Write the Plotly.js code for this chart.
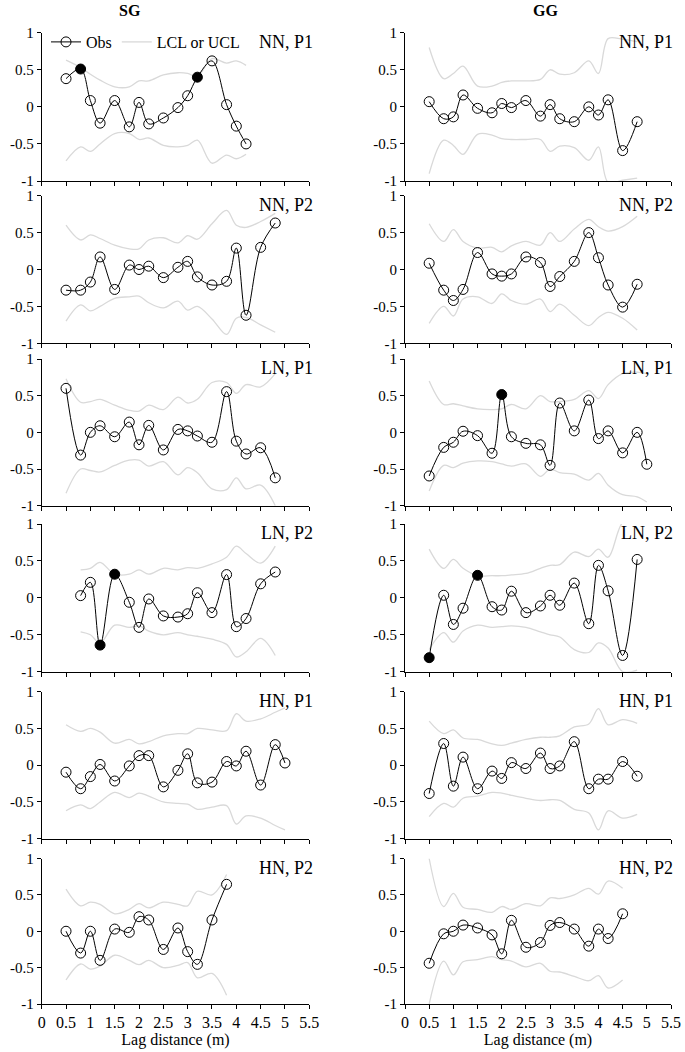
<!DOCTYPE html>
<html>
<head>
<meta charset="utf-8">
<script src="https://cdn.plot.ly/plotly-3.0.1.min.js"></script>
<style>
  html, body { margin: 0; padding: 0; background: #fff; }
  #graph-canvas { width: 685px; height: 1052px; }
</style>
</head>
<body>
<div id="graph-canvas"></div>
<script>
// lag distances (m)
var lag16 = [0.5, 0.8, 1, 1.2, 1.5, 1.8, 2, 2.2, 2.5, 2.8, 3, 3.2, 3.5, 3.8, 4, 4.2];
var lag18 = [0.5, 0.8, 1, 1.2, 1.5, 1.8, 2, 2.2, 2.5, 2.8, 3, 3.2, 3.5, 3.8, 4, 4.2, 4.5, 4.8];
var lag19 = [0.5, 0.8, 1, 1.2, 1.5, 1.8, 2, 2.2, 2.5, 2.8, 3, 3.2, 3.5, 3.8, 4, 4.2, 4.5, 4.8, 5];
var lag17b = [0.8, 1, 1.2, 1.5, 1.8, 2, 2.2, 2.5, 2.8, 3, 3.2, 3.5, 3.8, 4, 4.2, 4.5, 4.8];
var lag14 = [0.5, 0.8, 1, 1.2, 1.5, 1.8, 2, 2.2, 2.5, 2.8, 3, 3.2, 3.5, 3.8];
var lag17 = [0.5, 0.8, 1, 1.2, 1.5, 1.8, 2, 2.2, 2.5, 2.8, 3, 3.2, 3.5, 3.8, 4, 4.2, 4.5];

// SG, NN, P1
var sgNnP1Obs = [0.38, 0.51, 0.085, -0.22, 0.085, -0.27, 0.06, -0.23, -0.15, -0.01, 0.15, 0.40, 0.62, 0.03, -0.26, -0.50];
var sgNnP1Ucl = [0.63, 0.53, 0.44, 0.36, 0.27, 0.27, 0.35, 0.35, 0.43, 0.46, 0.45, 0.41, 0.65, 0.59, 0.62, 0.56];
var sgNnP1Lcl = [-0.73, -0.54, -0.60, -0.50, -0.36, -0.36, -0.44, -0.42, -0.52, -0.54, -0.52, -0.45, -0.76, -0.65, -0.70, -0.64];
var sgNnP1Sig = [0.8, 3.2];

// GG, NN, P1
var ggNnP1Obs = [0.07, -0.16, -0.135, 0.16, -0.02, -0.08, 0.045, -0.01, 0.085, -0.125, 0.03, -0.16, -0.20, 0.0, -0.11, 0.095, -0.59, -0.20];
var ggNnP1Ucl = [0.80, 0.38, 0.45, 0.55, 0.28, 0.28, 0.33, 0.35, 0.35, 0.37, 0.50, 0.44, 0.46, 0.62, 0.45, 0.92, 0.91, 0.88];
var ggNnP1Lcl = [-0.90, -0.45, -0.52, -0.64, -0.37, -0.38, -0.43, -0.44, -0.44, -0.44, -0.60, -0.53, -0.55, -0.72, -0.54, -1.02, -0.99, -0.96];
var ggNnP1Sig = [];

// SG, NN, P2
var sgNnP2Obs = [-0.28, -0.28, -0.17, 0.17, -0.27, 0.06, 0.0, 0.045, -0.11, 0.03, 0.11, -0.10, -0.21, -0.16, 0.29, -0.62, 0.30, 0.63];
var sgNnP2Ucl = [0.60, 0.40, 0.47, 0.42, 0.33, 0.28, 0.28, 0.40, 0.43, 0.36, 0.46, 0.41, 0.62, 0.80, 0.60, 0.57, 0.65, 0.76];
var sgNnP2Lcl = [-0.70, -0.48, -0.56, -0.50, -0.39, -0.37, -0.36, -0.45, -0.52, -0.43, -0.55, -0.50, -0.67, -0.88, -0.66, -0.65, -0.75, -0.85];
var sgNnP2Sig = [];

// GG, NN, P2
var ggNnP2Obs = [0.085, -0.28, -0.42, -0.27, 0.23, -0.06, -0.09, -0.06, 0.17, 0.095, -0.23, -0.095, 0.11, 0.50, 0.16, -0.21, -0.51, -0.20];
var ggNnP2Ucl = [0.62, 0.38, 0.54, 0.38, 0.29, 0.30, 0.24, 0.32, 0.38, 0.33, 0.50, 0.38, 0.55, 0.68, 0.58, 0.52, 0.58, 0.72];
var ggNnP2Lcl = [-0.73, -0.50, -0.63, -0.40, -0.37, -0.46, -0.33, -0.42, -0.47, -0.40, -0.57, -0.47, -0.62, -0.76, -0.65, -0.58, -0.66, -0.82];
var ggNnP2Sig = [];

// SG, LN, P1
var sgLnP1Obs = [0.60, -0.31, 0.0, 0.09, -0.06, 0.14, -0.17, 0.095, -0.24, 0.04, 0.02, -0.05, -0.135, 0.555, -0.12, -0.295, -0.21, -0.62];
var sgLnP1Ucl = [0.73, 0.41, 0.42, 0.45, 0.37, 0.30, 0.29, 0.37, 0.31, 0.48, 0.40, 0.45, 0.68, 0.68, 0.53, 0.65, 0.62, 0.80];
var sgLnP1Lcl = [-0.83, -0.50, -0.52, -0.54, -0.45, -0.38, -0.38, -0.46, -0.40, -0.58, -0.48, -0.55, -0.77, -0.78, -0.62, -0.77, -0.72, -1.0];
var sgLnP1Sig = [];

// GG, LN, P1
var ggLnP1Obs = [-0.595, -0.205, -0.135, 0.015, -0.045, -0.285, 0.515, -0.06, -0.15, -0.17, -0.45, 0.40, 0.02, 0.44, -0.085, 0.02, -0.28, 0.0, -0.435];
var ggLnP1Ucl = [0.70, 0.38, 0.39, 0.36, 0.32, 0.31, 0.32, 0.38, 0.32, 0.50, 0.42, 0.42, 0.45, 0.57, 0.46, 0.65, 0.80, 0.82, 0.80];
var ggLnP1Lcl = [-0.80, -0.45, -0.48, -0.42, -0.39, -0.40, -0.43, -0.46, -0.43, -0.60, -0.50, -0.55, -0.57, -0.65, -0.56, -0.72, -0.85, -0.88, -0.95];
var ggLnP1Sig = [2];

// SG, LN, P2
var sgLnP2Obs = [0.03, 0.21, -0.64, 0.32, -0.06, -0.40, -0.015, -0.245, -0.26, -0.215, 0.07, -0.20, 0.315, -0.39, -0.28, 0.19, 0.35];
var sgLnP2Ucl = [0.38, 0.40, 0.48, 0.32, 0.32, 0.38, 0.32, 0.40, 0.38, 0.41, 0.40, 0.46, 0.55, 0.70, 0.60, 0.47, 0.70];
var sgLnP2Lcl = [-0.46, -0.50, -0.61, -0.37, -0.40, -0.38, -0.45, -0.50, -0.47, -0.50, -0.52, -0.56, -0.63, -0.80, -0.73, -0.55, -0.78];
var sgLnP2Sig = [1.2, 1.5];

// GG, LN, P2
var ggLnP2Obs = [-0.81, 0.035, -0.36, -0.14, 0.305, -0.12, -0.165, 0.09, -0.20, -0.11, 0.035, -0.10, 0.20, -0.35, 0.44, 0.095, -0.78, 0.52];
var ggLnP2Ucl = [0.66, 0.40, 0.52, 0.40, 0.30, 0.30, 0.30, 0.31, 0.33, 0.40, 0.44, 0.45, 0.62, 0.56, 0.66, 0.55, 1.02, 1.10];
var ggLnP2Lcl = [-0.70, -0.47, -0.60, -0.45, -0.37, -0.40, -0.39, -0.38, -0.40, -0.46, -0.50, -0.53, -0.70, -0.74, -0.61, -0.68, -1.0, -0.98];
var ggLnP2Sig = [0.5, 1.5];

// SG, HN, P1
var sgHnP1Obs = [-0.095, -0.32, -0.155, 0.01, -0.215, -0.01, 0.13, 0.13, -0.295, -0.07, 0.155, -0.24, -0.23, 0.05, -0.01, 0.19, -0.27, 0.28, 0.03];
var sgHnP1Ucl = [0.55, 0.46, 0.50, 0.45, 0.30, 0.35, 0.29, 0.32, 0.40, 0.43, 0.43, 0.50, 0.48, 0.47, 0.70, 0.60, 0.63, 0.72, 0.78];
var sgHnP1Lcl = [-0.62, -0.54, -0.59, -0.50, -0.37, -0.44, -0.38, -0.42, -0.50, -0.52, -0.53, -0.60, -0.57, -0.55, -0.80, -0.69, -0.72, -0.82, -0.88];
var sgHnP1Sig = [];

// GG, HN, P1
var ggHnP1Obs = [-0.385, 0.295, -0.285, 0.11, -0.32, -0.08, -0.18, 0.035, -0.045, 0.165, -0.045, -0.01, 0.32, -0.32, -0.19, -0.19, 0.05, -0.15];
var ggHnP1Ucl = [0.60, 0.43, 0.48, 0.37, 0.35, 0.29, 0.27, 0.30, 0.35, 0.38, 0.38, 0.40, 0.52, 0.56, 0.77, 0.55, 0.62, 0.57];
var ggHnP1Lcl = [-0.70, -0.52, -0.57, -0.45, -0.42, -0.37, -0.38, -0.41, -0.45, -0.48, -0.47, -0.48, -0.60, -0.65, -0.88, -0.62, -0.72, -0.67];
var ggHnP1Sig = [];

// SG, HN, P2
var sgHnP2Obs = [0.0, -0.30, 0.0, -0.40, 0.03, -0.015, 0.20, 0.155, -0.25, 0.045, -0.28, -0.455, 0.155, 0.645];
var sgHnP2Ucl = [0.58, 0.35, 0.40, 0.37, 0.24, 0.30, 0.38, 0.32, 0.40, 0.37, 0.35, 0.55, 0.50, 0.78];
var sgHnP2Lcl = [-0.67, -0.45, -0.52, -0.48, -0.33, -0.40, -0.46, -0.40, -0.50, -0.47, -0.43, -0.64, -0.58, -0.88];
var sgHnP2Sig = [];

// GG, HN, P2
var ggHnP2Obs = [-0.44, -0.035, 0.0, 0.085, 0.045, -0.05, -0.31, 0.15, -0.22, -0.155, 0.08, 0.12, 0.03, -0.205, 0.03, -0.10, 0.24];
var ggHnP2Ucl = [1.0, 0.34, 0.52, 0.33, 0.30, 0.26, 0.34, 0.30, 0.38, 0.35, 0.46, 0.45, 0.50, 0.59, 0.51, 0.69, 0.59];
var ggHnP2Lcl = [-1.0, -0.41, -0.60, -0.42, -0.39, -0.35, -0.39, -0.41, -0.49, -0.44, -0.55, -0.56, -0.62, -0.68, -0.61, -0.78, -0.67];
var ggHnP2Sig = [];

var panelLabels = ['NN, P1', 'NN, P2', 'LN, P1', 'LN, P2', 'HN, P1', 'HN, P2'];
var columnTitles = ['SG', 'GG'];
var xTickVals = [0, 0.5, 1, 1.5, 2, 2.5, 3, 3.5, 4, 4.5, 5, 5.5];
var xTickText = ['0', '0.5', '1', '1.5', '2', '2.5', '3', '3.5', '4', '4.5', '5', '5.5'];
var yTickVals = [-1, -0.5, 0, 0.5, 1];
var yTickText = ['-1', '-0.5', '0', '0.5', '1'];

var panels = [
    [lag16, sgNnP1Obs, sgNnP1Ucl, sgNnP1Lcl, sgNnP1Sig], [lag18, ggNnP1Obs, ggNnP1Ucl, ggNnP1Lcl, ggNnP1Sig],
    [lag18, sgNnP2Obs, sgNnP2Ucl, sgNnP2Lcl, sgNnP2Sig], [lag18, ggNnP2Obs, ggNnP2Ucl, ggNnP2Lcl, ggNnP2Sig],
    [lag18, sgLnP1Obs, sgLnP1Ucl, sgLnP1Lcl, sgLnP1Sig], [lag19, ggLnP1Obs, ggLnP1Ucl, ggLnP1Lcl, ggLnP1Sig],
    [lag17b, sgLnP2Obs, sgLnP2Ucl, sgLnP2Lcl, sgLnP2Sig], [lag18, ggLnP2Obs, ggLnP2Ucl, ggLnP2Lcl, ggLnP2Sig],
    [lag19, sgHnP1Obs, sgHnP1Ucl, sgHnP1Lcl, sgHnP1Sig], [lag18, ggHnP1Obs, ggHnP1Ucl, ggHnP1Lcl, ggHnP1Sig],
    [lag14, sgHnP2Obs, sgHnP2Ucl, sgHnP2Lcl, sgHnP2Sig], [lag17, ggHnP2Obs, ggHnP2Ucl, ggHnP2Lcl, ggHnP2Sig]
];

var W = 685, H = 1052;
var FONT = '"Liberation Serif", "Times New Roman", serif';
var colPx = [[41.7, 309.3], [405, 671]];
var rowTopPx = [32.7, 195.7, 359, 524, 691.7, 858.5];
var rowBotPx = [181, 343.3, 505.7, 671.7, 838.7, 1004];
var bandColor = '#d9d9d9';

function renderChart() {
    var data = [];
    var layout = {
        width: W, height: H,
        margin: { l: 0, r: 0, t: 0, b: 0 },
        paper_bgcolor: '#fff', plot_bgcolor: '#fff',
        font: { family: FONT, size: 16, color: '#000' },
        showlegend: true,
        legend: {
            orientation: 'h', x: 46 / W, y: 1 - 42 / H, xanchor: 'left', yanchor: 'middle',
            bgcolor: 'rgba(0,0,0,0)', font: { family: FONT, size: 16, color: '#000' },
            itemwidth: 30, tracegroupgap: 0
        },
        annotations: []
    };

    panels.forEach(function (p, i) {
        var n = i + 1;
        var row = Math.floor(i / 2), col = i % 2;
        var xa = 'x' + n, ya = 'y' + n;
        var lag = p[0], obs = p[1], ucl = p[2], lcl = p[3], sig = p[4];

        data.push({
            x: lag, y: ucl, xaxis: xa, yaxis: ya, type: 'scatter', mode: 'lines',
            line: { color: bandColor, width: 1.3, shape: 'spline', smoothing: 1 },
            name: 'LCL or UCL', showlegend: n === 1, legendrank: 2, hoverinfo: 'skip'
        });
        data.push({
            x: lag, y: lcl, xaxis: xa, yaxis: ya, type: 'scatter', mode: 'lines',
            line: { color: bandColor, width: 1.3, shape: 'spline', smoothing: 1 },
            showlegend: false, hoverinfo: 'skip'
        });
        data.push({
            x: lag, y: obs, xaxis: xa, yaxis: ya, type: 'scatter', mode: 'lines+markers',
            line: { color: '#000', width: 1, shape: 'spline', smoothing: 1 },
            marker: {
                size: 10, color: '#000',
                symbol: lag.map(function (v) { return sig.indexOf(v) >= 0 ? 'circle' : 'circle-open'; }),
                line: { color: '#000', width: 1 }
            },
            name: 'Obs', showlegend: n === 1, legendrank: 1
        });

        var bottom = row === 5;
        layout['xaxis' + n] = {
            domain: [colPx[col][0] / W, colPx[col][1] / W],
            range: [0, 5.5], anchor: ya,
            tickvals: xTickVals, ticktext: xTickText, showticklabels: bottom,
            ticks: 'outside', ticklen: 4, tickcolor: '#000', tickwidth: 1,
            showline: true, linecolor: '#000', linewidth: 1,
            showgrid: false, zeroline: false,
            tickfont: { family: FONT, size: 16, color: '#000' },
            title: bottom ? { text: 'Lag distance (m)', font: { family: FONT, size: 16, color: '#000' }, standoff: 2 } : { text: '' }
        };
        layout['yaxis' + n] = {
            domain: [1 - rowBotPx[row] / H, 1 - rowTopPx[row] / H],
            range: [-1, 1], anchor: xa,
            tickvals: yTickVals, ticktext: yTickText,
            ticks: 'outside', ticklen: 4, tickcolor: '#000', tickwidth: 1,
            showline: true, linecolor: '#000', linewidth: 1,
            showgrid: false, zeroline: false,
            tickfont: { family: FONT, size: 15, color: '#000' }
        };
        layout.annotations.push({
            xref: xa + ' domain', yref: ya + ' domain', x: col === 0 ? 1.022 : 1.016, y: 0.937,
            xanchor: 'right', yanchor: 'middle', showarrow: false,
            text: panelLabels[row], font: { family: FONT, size: 18, color: '#000' }
        });
    });

    columnTitles.forEach(function (t, c) {
        layout.annotations.push({
            xref: 'paper', yref: 'paper', x: c === 0 ? 130 / W : 545 / W, y: 1 - 10 / H,
            xanchor: 'center', yanchor: 'middle', showarrow: false,
            text: '<b>' + t + '</b>', font: { family: FONT, size: 16, color: '#000' }
        });
    });

    Plotly.newPlot('graph-canvas', data, layout, { staticPlot: true });
}

renderChart();
</script>
</body>
</html>
